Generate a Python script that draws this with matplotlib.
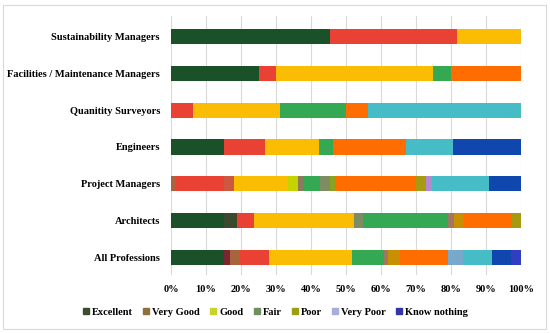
import matplotlib
matplotlib.use('Agg')
import matplotlib.pyplot as plt
from matplotlib.lines import Line2D
from matplotlib.patches import Rectangle
import numpy as np

plt.rcParams['font.family'] = ['Liberation Serif', 'DejaVu Serif']
plt.rcParams['font.weight'] = 'bold'

# professions, top to bottom
professions = ['Sustainability Managers', 'Facilities / Maintenance Managers',
               'Quanitity Surveyors', 'Engineers', 'Project Managers',
               'Architects', 'All Professions']

# segment shares (%), stacked left to right
dark_green  = [45.45, 25.0, 0.0, 15.2, 0.0, 15.2, 15.1]
dark_olive  = [0.0, 0.0, 0.0, 0.0, 0.0, 3.7, 0.0]
dark_red    = [0.0, 0.0, 0.0, 0.0, 0.0, 0.0, 1.8]
brown       = [0.0, 0.0, 0.0, 0.0, 1.3, 0.0, 2.8]
red         = [36.36, 5.0, 6.25, 11.7, 13.9, 4.8, 8.2]
brick       = [0.0, 0.0, 0.0, 0.0, 2.8, 0.0, 0.0]
yellow      = [18.19, 45.0, 25.0, 15.3, 15.5, 28.4, 23.9]
lime        = [0.0, 0.0, 0.0, 0.0, 2.7, 0.3, 0.0]
taupe_a     = [0.0, 0.0, 0.0, 0.0, 1.8, 0.0, 0.0]
sage_a      = [0.0, 0.0, 0.0, 0.0, 0.0, 2.6, 0.0]
green       = [0.0, 5.0, 18.75, 4.0, 4.6, 24.2, 9.1]
sage_b      = [0.0, 0.0, 0.0, 0.0, 2.8, 0.0, 0.0]
olive_green = [0.0, 0.0, 0.0, 0.0, 1.7, 0.0, 0.0]
taupe_b     = [0.0, 0.0, 0.0, 0.0, 0.0, 1.7, 1.0]
gold        = [0.0, 0.0, 0.0, 0.0, 0.0, 2.6, 3.5]
orange      = [0.0, 20.0, 6.25, 21.1, 22.9, 14.0, 13.8]
olive_gold  = [0.0, 0.0, 0.0, 0.0, 2.8, 2.5, 0.0]
lavender    = [0.0, 0.0, 0.0, 0.0, 1.7, 0.0, 0.0]
steel       = [0.0, 0.0, 0.0, 0.0, 0.0, 0.0, 4.3]
cyan        = [0.0, 0.0, 43.75, 13.4, 16.4, 0.0, 8.3]
blue        = [0.0, 0.0, 0.0, 19.3, 9.1, 0.0, 5.5]
indigo      = [0.0, 0.0, 0.0, 0.0, 0.0, 0.0, 2.7]

legend_labels = ['Excellent', 'Very Good', 'Good', 'Fair', 'Poor',
                 'Very Poor', 'Know nothing']
legend_colors = ['#3a4d2e', '#8c7040', '#c8d42a', '#6e9060', '#9aa012',
                 '#a8aed8', '#3535a5']

segments = [
    (dark_green, '#1b5129'), (dark_olive, '#3b4a2e'), (dark_red, '#7b2530'),
    (brown, '#a8643c'), (red, '#e94235'), (brick, '#cc5840'),
    (yellow, '#fbbc04'), (lime, '#c5d400'), (taupe_a, '#8c7a5c'),
    (sage_a, '#7d8c62'), (green, '#34a853'), (sage_b, '#7d8c62'),
    (olive_green, '#8aa21e'), (taupe_b, '#a07860'), (gold, '#c98f00'),
    (orange, '#ff6d01'), (olive_gold, '#a89a10'), (lavender, '#b38ad0'),
    (steel, '#78a8cc'), (cyan, '#46bdc6'), (blue, '#0f47af'),
    (indigo, '#2f3fbf'),
]

fig = plt.figure(figsize=(5.5, 3.33), dpi=100)
ax = fig.add_axes([0.311, 0.174, 0.636, 0.778])

y = np.arange(len(professions))[::-1]
left = np.zeros(len(professions))
for vals, col in segments:
    vals = np.array(vals)
    ax.barh(y, vals, left=left, height=0.41, color=col, zorder=3)
    left += vals

ax.set_xlim(0, 100)
ax.set_ylim(-0.49, 6.57)
ax.set_xticks(np.arange(0, 101, 10))
ax.set_xticklabels([f'{v}%' for v in range(0, 101, 10)])
ax.set_yticks(y)
ax.set_yticklabels(professions)
ax.tick_params(axis='both', length=0, labelsize=7.5, colors='#000000')
ax.tick_params(axis='x', pad=7)
ax.tick_params(axis='y', pad=8)
ax.xaxis.grid(True, color='#d9d9d9', linewidth=0.8, zorder=0)
for s in ax.spines.values():
    s.set_visible(False)

handles = [Line2D([], [], marker='s', linestyle='none', markersize=4.5,
                  color=c) for c in legend_colors]
fig.legend(handles, legend_labels, loc='center', bbox_to_anchor=(0.5, 0.063),
           ncol=7, frameon=False, fontsize=7.5, handletextpad=0.15,
           columnspacing=0.9, handlelength=0.8)

fig.patches.append(Rectangle((0.005, 0.012), 0.987, 0.972, transform=fig.transFigure,
                             fill=False, edgecolor='#d9d9d9', linewidth=0.8))

fig.savefig('out.png', dpi=100)
